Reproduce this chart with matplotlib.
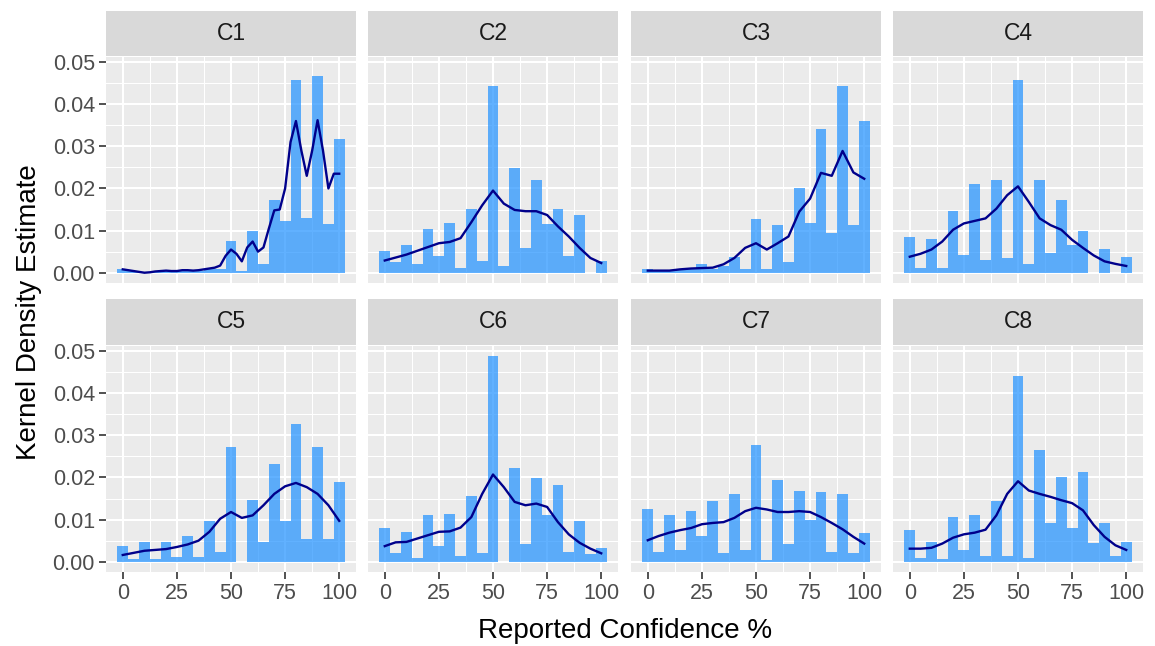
import matplotlib
matplotlib.use("Agg")
import matplotlib.pyplot as plt
import numpy as np

plt.rcParams['font.family'] = ['Liberation Sans', 'DejaVu Sans']

panels = ["C1", "C2", "C3", "C4", "C5", "C6", "C7", "C8"]
bin_centers = list(range(0, 101, 5))

hist = {
    "C1": [0.001, 0.0003, 0.0002, 0.0002, 0.0005, 0.0005, 0.0005, 0.0005, 0.001, 0.001,
           0.0076, 0.0005, 0.0099, 0.002, 0.0172, 0.0123, 0.0457, 0.013, 0.0466, 0.0115, 0.0318],
    "C2": [0.0052, 0.0025, 0.0066, 0.002, 0.0104, 0.0039, 0.0118, 0.0012, 0.0152, 0.0027,
           0.0443, 0.0016, 0.0248, 0.0059, 0.0219, 0.0115, 0.0152, 0.0039, 0.0137, 0.0, 0.0029],
    "C3": [0.001, 0.0005, 0.0005, 0.0008, 0.0008, 0.002, 0.001, 0.0016, 0.0037, 0.001,
           0.0127, 0.001, 0.0113, 0.0025, 0.0201, 0.0119, 0.034, 0.0095, 0.0443, 0.0113, 0.0359],
    "C4": [0.0084, 0.0012, 0.008, 0.0012, 0.0146, 0.0043, 0.0211, 0.003, 0.0219, 0.0034,
           0.0457, 0.002, 0.0219, 0.0047, 0.0172, 0.0066, 0.0099, 0.0, 0.0056, 0.0, 0.0037],
    "C5": [0.0037, 0.0006, 0.0047, 0.0006, 0.0047, 0.0012, 0.0061, 0.0012, 0.0096, 0.0024,
           0.0273, 0.0, 0.0147, 0.0047, 0.0231, 0.0096, 0.0328, 0.0055, 0.0273, 0.0053, 0.0189],
    "C6": [0.008, 0.002, 0.0071, 0.0008, 0.011, 0.0037, 0.0114, 0.0013, 0.0157, 0.002,
           0.0488, 0.0, 0.0222, 0.0043, 0.0198, 0.011, 0.0183, 0.0024, 0.0096, 0.0018, 0.0033],
    "C7": [0.0124, 0.0024, 0.011, 0.0028, 0.012, 0.0061, 0.0143, 0.002, 0.016, 0.0028,
           0.0278, 0.0005, 0.0193, 0.0043, 0.0169, 0.01, 0.0165, 0.0024, 0.016, 0.002, 0.0067],
    "C8": [0.0076, 0.0009, 0.0047, 0.0006, 0.0105, 0.0028, 0.011, 0.0013, 0.0143, 0.0013,
           0.0441, 0.0009, 0.0264, 0.0092, 0.0202, 0.0081, 0.0213, 0.0045, 0.0091, 0.0013, 0.0047],
}

dens_x_fine = [i * 2.5 for i in range(41)]
dens_x = list(range(0, 101, 5))

dens = {
    "C1": [0.0008, 0.0006, 0.0004, 0.0002, 0.0, 0.0001, 0.0003, 0.0004, 0.0005, 0.0004,
           0.0004, 0.0006, 0.0006, 0.0005, 0.0006, 0.0008, 0.001, 0.0012, 0.0017, 0.004,
           0.0055, 0.0045, 0.0027, 0.006, 0.0074, 0.005, 0.006, 0.0105, 0.0148, 0.015,
           0.02, 0.031, 0.036, 0.029, 0.023, 0.029, 0.0362, 0.029, 0.020, 0.0235, 0.0235],
    "C2": [0.0029, 0.0036, 0.0043, 0.0052, 0.0061, 0.007, 0.0073, 0.0082, 0.012, 0.016,
           0.0195, 0.0164, 0.0149, 0.0146, 0.0146, 0.0137, 0.011, 0.0086, 0.0059, 0.0035, 0.0023],
    "C3": [0.0005, 0.0005, 0.0005, 0.0008, 0.001, 0.0011, 0.0012, 0.002, 0.0035, 0.0059,
           0.007, 0.0055, 0.007, 0.0086, 0.0145, 0.0176, 0.0237, 0.023, 0.0289, 0.0238, 0.0223],
    "C4": [0.0038, 0.0045, 0.0055, 0.0074, 0.0102, 0.0117, 0.0123, 0.0129, 0.0152, 0.0184,
           0.0205, 0.0168, 0.0129, 0.0113, 0.0102, 0.0078, 0.0059, 0.0041, 0.0027, 0.0021, 0.0016],
    "C5": [0.0016, 0.0021, 0.0026, 0.0028, 0.003, 0.0035, 0.0041, 0.005, 0.0071, 0.0102,
           0.0118, 0.0104, 0.011, 0.0134, 0.0161, 0.0179, 0.0187, 0.0177, 0.0161, 0.0134, 0.0097],
    "C6": [0.0037, 0.0046, 0.0047, 0.0055, 0.0063, 0.0071, 0.0072, 0.0081, 0.0106, 0.0161,
           0.0207, 0.0177, 0.0142, 0.0134, 0.0138, 0.013, 0.0094, 0.0065, 0.0045, 0.0031, 0.002],
    "C7": [0.0051, 0.0061, 0.0069, 0.0075, 0.008, 0.0089, 0.0092, 0.0094, 0.0104, 0.012,
           0.0128, 0.0124, 0.0118, 0.0118, 0.012, 0.0118, 0.0106, 0.0092, 0.0077, 0.0059, 0.0043],
    "C8": [0.0031, 0.0031, 0.0033, 0.0043, 0.0057, 0.0065, 0.0069, 0.0076, 0.011, 0.0161,
           0.0191, 0.0169, 0.0161, 0.0154, 0.0146, 0.0139, 0.0122, 0.0087, 0.0059, 0.0039, 0.0028],
}

x_ticks = [0, 25, 50, 75, 100]
y_ticks = [0.00, 0.01, 0.02, 0.03, 0.04, 0.05]
y_ticklabels = ["0.00", "0.01", "0.02", "0.03", "0.04", "0.05"]

W, H = 1155, 646
fig = plt.figure(figsize=(W / 100, H / 100), dpi=100)

col_left = [106, 368, 631, 893]
panel_w = 250
row_top = [57, 346]
panel_h = 226
strip_h = [45, 46]

for i, name in enumerate(panels):
    r, c = divmod(i, 4)
    left = col_left[c] / W
    bottom = 1 - (row_top[r] + panel_h) / H
    ax = fig.add_axes([left, bottom, panel_w / W, panel_h / H])
    ax.set_facecolor('#EBEBEB')
    ax.set_axisbelow(True)
    ax.set_xlim(-7.75, 107.75)
    ax.set_ylim(-0.00244, 0.0512)
    ax.set_xticks(x_ticks)
    ax.set_xticks([12.5, 37.5, 62.5, 87.5], minor=True)
    ax.set_yticks(y_ticks)
    ax.set_yticks([0.005, 0.015, 0.025, 0.035, 0.045], minor=True)
    ax.grid(True, which='major', color='white', linewidth=1.5)
    ax.grid(True, which='minor', color='white', linewidth=0.75)
    for s in ax.spines.values():
        s.set_visible(False)
    ax.tick_params(axis='both', which='major', length=5, width=1.2, color='#333333',
                   labelcolor='#4D4D4D', labelsize=15.5, pad=3)
    ax.tick_params(axis='both', which='minor', length=0)
    if c == 0:
        ax.set_yticklabels(y_ticklabels)
    else:
        ax.tick_params(axis='y', which='major', labelleft=False, length=0)
    if r == 1:
        ax.set_xticklabels([str(t) for t in x_ticks])
    else:
        ax.tick_params(axis='x', which='major', labelbottom=False, length=0)

    ax.bar(bin_centers, hist[name], width=5, color='#1E90FF', alpha=0.7, linewidth=0)
    dx = dens_x_fine if name == "C1" else dens_x
    ax.plot(dx, dens[name], color='#00008B', linewidth=1.7, solid_joinstyle='round')

    # strip
    sax = fig.add_axes([left, 1 - (row_top[r] - 1) / H, panel_w / W, strip_h[r] / H])
    sax.set_facecolor('#D9D9D9')
    sax.set_xticks([])
    sax.set_yticks([])
    for s in sax.spines.values():
        s.set_visible(False)
    sax.text(0.5, 0.5, name, ha='center', va='center', fontsize=16.5, color='#1A1A1A',
             transform=sax.transAxes)

fig.text(625 / W, 1 - 631 / H, "Reported Confidence %", ha='center', va='center',
         fontsize=20, color='black')
fig.text(29 / W, 1 - 312 / H, "Kernel Density Estimate", ha='center', va='center',
         rotation=90, fontsize=20, color='black')

fig.savefig("out.png", dpi=100)
